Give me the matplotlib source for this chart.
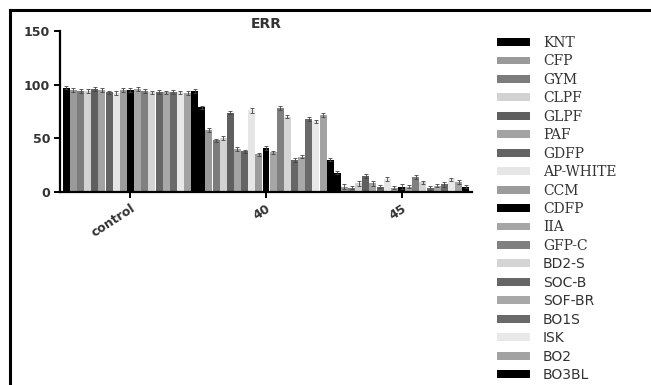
import numpy as np
import matplotlib.pyplot as plt
from matplotlib.lines import Line2D
from matplotlib.patches import Patch

# groups and series
groups = ['control', '40', '45']
series = ['KNT', 'CFP', 'GYM', 'CLPF', 'GLPF', 'PAF', 'GDFP', 'AP-WHITE', 'CCM',
          'CDFP', 'IIA', 'GFP-C', 'BD2-S', 'SOC-B', 'SOF-BR', 'BO1S', 'ISK', 'BO2', 'BO3BL']
colors = ['#000000', '#9a9a9a', '#7c7c7c', '#d2d2d2', '#5f5f5f', '#a3a3a3', '#646464',
          '#e6e6e6', '#9c9c9c', '#000000', '#a6a6a6', '#808080', '#d4d4d4', '#666666',
          '#a8a8a8', '#6a6a6a', '#e8e8e8', '#a2a2a2', '#000000']
serif_labels = ['KNT', 'CFP', 'GYM', 'CLPF', 'GLPF', 'PAF', 'GDFP', 'AP-WHITE', 'CCM',
                'CDFP', 'IIA', 'GFP-C']

control = [97, 95, 94, 94, 96, 95, 93, 92, 95, 95, 96, 94, 93, 93, 93, 93, 93, 92, 94]
t40 = [79, 58, 48, 50, 74, 40, 38, 76, 35, 41, 37, 78, 70, 30, 33, 68, 66, 72, 30]
t45 = [18, 5, 4, 8, 15, 8, 5, 12, 4, 5, 5, 14, 9, 4, 6, 7, 12, 9, 5]
err = [1.5, 2, 1.5, 2, 1.5, 2, 1.5, 2, 1.5, 2, 1.5, 2, 1.5, 2, 1.5, 2, 1.5, 2, 1.5]

data = np.array([control, t40, t45])  # rows: groups, cols: series

fig = plt.figure(figsize=(6.51, 3.85), dpi=100)
ax = fig.add_axes([60/651, 1 - 192/385, 412/651, 161/385])

n = len(series)
w = 1.0 / n
x = np.arange(len(groups))
for i in range(n):
    ax.bar(x - 0.5 + w * (i + 0.5), data[:, i], width=w * 0.98, color=colors[i],
           yerr=err[i], error_kw=dict(elinewidth=0.6, capsize=1.2, capthick=0.6, ecolor='#444444'))

ax.set_xlim(-0.52, 2.52)
ax.set_ylim(0, 150)
ax.set_yticks([0, 50, 100, 150])
ax.set_xticks(x)
ax.set_xticklabels(groups, rotation=33, ha='right', rotation_mode='anchor',
                   fontsize=9, fontweight='bold', color='#333333')
for lab in ax.get_yticklabels():
    lab.set_fontweight('bold')
    lab.set_fontsize(9)
    lab.set_color('#333333')
ax.spines['top'].set_visible(False)
ax.spines['right'].set_visible(False)
ax.spines['left'].set_linewidth(1.6)
ax.spines['bottom'].set_linewidth(1.6)
ax.tick_params(axis='both', width=1.4, length=4, pad=3)
ax.set_title('ERR', fontsize=10, fontweight='bold', color='#333333', pad=0)

handles = [Patch(facecolor=c, edgecolor='none') for c in colors]
leg = fig.legend(handles, series, loc='upper left', bbox_to_anchor=(497/651, 1 - 36/385),
                 frameon=False, fontsize=10, handlelength=2.4, handleheight=0.5,
                 handletextpad=0.9, labelspacing=0.32, borderpad=0, borderaxespad=0)
for t in leg.get_texts():
    t.set_color('#333333')
    if t.get_text() in serif_labels:
        t.set_family('DejaVu Serif')
    else:
        t.set_family('DejaVu Sans')

# frame lines at top and left of the figure
fig.add_artist(Line2D([10/651, 1], [1 - 10/385, 1 - 10/385], color='black', lw=2.2))
fig.add_artist(Line2D([10/651, 10/651], [0, 1 - 10/385], color='black', lw=2.2))

fig.savefig('out.png', dpi=100)
